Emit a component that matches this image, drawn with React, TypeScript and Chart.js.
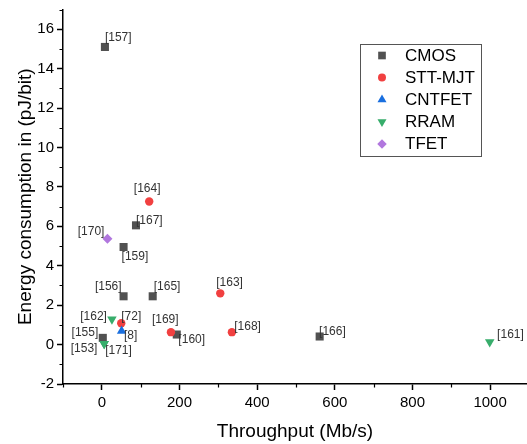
import React, { useEffect, useRef } from 'react';
import { Chart, registerables } from 'chart.js';

Chart.register(...registerables);

// ---------- data ----------
const seriesNames = ['CMOS', 'STT-MJT', 'CNTFET', 'RRAM', 'TFET'];

const cmosX = [8, 88, 56, 56, 131, 2.5, 193, 561];
const cmosY = [15.1, 6.05, 4.95, 2.45, 2.45, 0.34, 0.51, 0.41];
const cmosRefs = ['[157]', '[167]', '[159]', '[156]', '[165]', '[155]', '[160]', '[166]'];

const sttX = [122, 305, 50, 178, 335];
const sttY = [7.26, 2.6, 1.08, 0.63, 0.63];
const sttRefs = ['[164]', '[163]', '[72]', '[169]', '[168]'];

const cntX = [51];
const cntY = [0.69];
const cntRefs = ['[8]'];

const rramX = [26, 6, 6, 999];
const rramY = [1.28, 0.04, 0.04, 0.13];
const rramRefs = ['[162]', '[171]', '[153]', '[161]'];

const tfetX = [14.5];
const tfetY = [5.37];
const tfetRefs = ['[170]'];

const xTickValues = [-100, 0, 100, 200, 300, 400, 500, 600, 700, 800, 900, 1000];
const xTickLabels = [0, 200, 400, 600, 800, 1000];
const yTickValues = [-2, -1, 0, 1, 2, 3, 4, 5, 6, 7, 8, 9, 10, 11, 12, 13, 14, 15, 16, 17];
const yTickLabels = [-2, 0, 2, 4, 6, 8, 10, 12, 14, 16];

const xTitle = 'Throughput (Mb/s)';
const yTitle = 'Energy consumption in (pJ/bit)';

// ---------- styles ----------
const FONT = '"Liberation Sans", Arial, sans-serif';
const seriesStyles = [
  { color: '#515151', point: 'rect', radius: 5.7, rotation: 0 },
  { color: '#F14040', point: 'circle', radius: 4.2, rotation: 0 },
  { color: '#1A6FDF', point: 'triangle', radius: 5.5, rotation: 0 },
  { color: '#37AD6B', point: 'triangle', radius: 5.5, rotation: 180 },
  { color: '#B177DE', point: 'rectRot', radius: 5, rotation: 0 },
];

// label placement relative to its point: [dx, dy, align]
const labelPlacement: Record<string, [number, number, CanvasTextAlign]> = {
  '[157]': [0, -9, 'left'],
  '[167]': [0, -5, 'left'],
  '[159]': [-2, 9.5, 'left'],
  '[156]': [-2, -10, 'right'],
  '[165]': [1, -10, 'left'],
  '[155]': [-4.5, -5.6, 'right'],
  '[160]': [1.6, 5.3, 'left'],
  '[166]': [-0.6, -5.3, 'left'],
  '[164]': [-2, -13, 'center'],
  '[163]': [-4, -11, 'left'],
  '[72]': [0, -7, 'left'],
  '[169]': [-5.7, -12.4, 'center'],
  '[168]': [2.3, -5, 'left'],
  '[8]': [2.3, 4.5, 'left'],
  '[162]': [-5, -3, 'right'],
  '[171]': [1, 6.5, 'left'],
  '[153]': [-6.7, 5, 'right'],
  '[161]': [7.4, -7, 'left'],
  '[170]': [-3, -7, 'right'],
};

function drawMarker(ctx: CanvasRenderingContext2D, style: string, x: number, y: number, r: number, rot: number, color: string) {
  ctx.save();
  ctx.fillStyle = color;
  ctx.beginPath();
  if (style === 'rect') {
    const s = Math.SQRT1_2 * r;
    ctx.rect(x - s, y - s, 2 * s, 2 * s);
  } else if (style === 'circle') {
    ctx.arc(x, y, r, 0, Math.PI * 2);
  } else if (style === 'triangle') {
    const d = rot === 180 ? -1 : 1;
    ctx.moveTo(x, y - d * r);
    ctx.lineTo(x + 0.866 * r, y + d * r / 2);
    ctx.lineTo(x - 0.866 * r, y + d * r / 2);
    ctx.closePath();
  } else if (style === 'rectRot') {
    ctx.moveTo(x - r, y);
    ctx.lineTo(x, y - r);
    ctx.lineTo(x + r, y);
    ctx.lineTo(x, y + r);
    ctx.closePath();
  }
  ctx.fill();
  ctx.restore();
}

const refLabelPlugin = {
  id: 'refLabels',
  afterDatasetsDraw(chart: any) {
    const ctx = chart.ctx as CanvasRenderingContext2D;
    ctx.save();
    ctx.font = `12px ${FONT}`;
    ctx.fillStyle = '#333333';
    ctx.textBaseline = 'middle';
    chart.data.datasets.forEach((ds: any, di: number) => {
      const meta = chart.getDatasetMeta(di);
      (ds.refs as string[]).forEach((ref, i) => {
        const el = meta.data[i];
        if (!el) return;
        const p = labelPlacement[ref] || [3, -8, 'left'];
        ctx.textAlign = p[2];
        ctx.fillText(ref, el.x + p[0], el.y + p[1]);
      });
    });
    ctx.restore();
  },
};

const minorTickPlugin = {
  id: 'minorTicks',
  afterDraw(chart: any) {
    const ctx = chart.ctx as CanvasRenderingContext2D;
    const xs = chart.scales.x;
    const ys = chart.scales.y;
    const area = chart.chartArea;
    ctx.save();
    ctx.strokeStyle = '#000';
    ctx.lineWidth = 1.2;
    ctx.beginPath();
    xTickValues.forEach((v) => {
      if (xTickLabels.includes(v)) return;
      const px = Math.round(xs.getPixelForValue(v)) + 0.5;
      ctx.moveTo(px, area.bottom);
      ctx.lineTo(px, area.bottom + 3.5);
    });
    yTickValues.forEach((v) => {
      if (yTickLabels.includes(v)) return;
      const py = Math.round(ys.getPixelForValue(v)) + 0.5;
      ctx.moveTo(area.left, py);
      ctx.lineTo(area.left - 3.5, py);
    });
    ctx.stroke();
    ctx.restore();
  },
};

const boxLegendPlugin = {
  id: 'boxLegend',
  afterDraw(chart: any) {
    const ctx = chart.ctx as CanvasRenderingContext2D;
    const bx = 360.5, by = 44.5, bw = 121, bh = 112;
    ctx.save();
    ctx.fillStyle = '#fff';
    ctx.fillRect(bx, by, bw, bh);
    ctx.strokeStyle = '#555';
    ctx.lineWidth = 1;
    ctx.strokeRect(bx, by, bw, bh);
    ctx.font = `17px ${FONT}`;
    ctx.fillStyle = '#000';
    ctx.textAlign = 'left';
    ctx.textBaseline = 'middle';
    seriesNames.forEach((name, i) => {
      const st = seriesStyles[i];
      const y = by + 11 + i * 22.1;
      drawMarker(ctx, st.point, 382, y, st.radius * 0.95, st.rotation, st.color);
      ctx.fillText(name, 405, y + 0.5);
    });
    ctx.restore();
  },
};

function App() {
  const canvasRef = useRef<HTMLCanvasElement | null>(null);

  useEffect(() => {
    const canvas = canvasRef.current;
    if (!canvas) return;
    const xs = [cmosX, sttX, cntX, rramX, tfetX];
    const ysArr = [cmosY, sttY, cntY, rramY, tfetY];
    const refs = [cmosRefs, sttRefs, cntRefs, rramRefs, tfetRefs];
    const datasets = seriesNames.map((name, i) => ({
      label: name,
      data: xs[i].map((x, j) => ({ x, y: ysArr[i][j] })),
      refs: refs[i],
      order: seriesNames.length - i,
      pointStyle: seriesStyles[i].point,
      pointRadius: seriesStyles[i].radius,
      pointRotation: seriesStyles[i].rotation,
      pointBackgroundColor: seriesStyles[i].color,
      pointBorderColor: seriesStyles[i].color,
      pointBorderWidth: 0,
      showLine: false,
      clip: false,
    }));

    const chart = new Chart(canvas, {
      type: 'scatter',
      data: { datasets: datasets as any },
      options: {
        animation: false,
        responsive: false,
        maintainAspectRatio: false,
        layout: { autoPadding: false, padding: { top: 9.5, left: 0, right: 0, bottom: 0 } },
        plugins: {
          legend: { display: false },
          tooltip: { enabled: false },
        },
        scales: {
          x: {
            type: 'linear',
            min: -100,
            max: 1095,
            afterBuildTicks: (scale: any) => {
              scale.ticks = xTickValues.map((v) => ({ value: v }));
            },
            afterFit: (scale: any) => {
              scale.height = 60;
              scale.paddingRight = 0;
              scale.paddingLeft = 0;
            },
            ticks: {
              autoSkip: false,
              maxRotation: 0,
              padding: 4,
              color: '#000',
              font: { family: FONT, size: 15 },
              callback: (v: any) => (xTickLabels.includes(Number(v)) ? String(v) : ''),
            },
            grid: {
              drawOnChartArea: false,
              drawTicks: true,
              tickLength: 6,
              tickWidth: 1.5,
              tickColor: (c: any) => (c.tick && xTickLabels.includes(c.tick.value) ? '#000' : 'rgba(0,0,0,0)'),
            },
            border: { display: true, color: '#000', width: 1.5 },
            title: {
              display: true,
              text: xTitle,
              color: '#000',
              font: { family: FONT, size: 19 },
              padding: { top: 0, bottom: 1 },
            },
          },
          y: {
            type: 'linear',
            min: -2,
            max: 17,
            afterBuildTicks: (scale: any) => {
              scale.ticks = yTickValues.map((v) => ({ value: v }));
            },
            afterFit: (scale: any) => {
              scale.width = 63;
              scale.paddingTop = 0;
              scale.paddingBottom = 0;
            },
            ticks: {
              autoSkip: false,
              padding: 3,
              color: '#000',
              font: { family: FONT, size: 15 },
              callback: (v: any) => (yTickLabels.includes(Number(v)) ? String(v) : ''),
            },
            grid: {
              drawOnChartArea: false,
              drawTicks: true,
              tickLength: 6,
              tickWidth: 1.5,
              tickColor: (c: any) => (c.tick && yTickLabels.includes(c.tick.value) ? '#000' : 'rgba(0,0,0,0)'),
            },
            border: { display: true, color: '#000', width: 1.5 },
            title: {
              display: true,
              text: yTitle,
              color: '#000',
              font: { family: FONT, size: 19 },
              padding: { top: 14, bottom: 0 },
            },
          },
        },
      },
      plugins: [refLabelPlugin, minorTickPlugin, boxLegendPlugin],
    });
    return () => chart.destroy();
  }, []);

  return (
    <div style={{ position: 'fixed', left: 0, top: 0, width: 527, height: 444, background: '#fff' }}>
      <canvas ref={canvasRef} width={527} height={444} style={{ width: 527, height: 444 }} />
    </div>
  );
}

export default App;
